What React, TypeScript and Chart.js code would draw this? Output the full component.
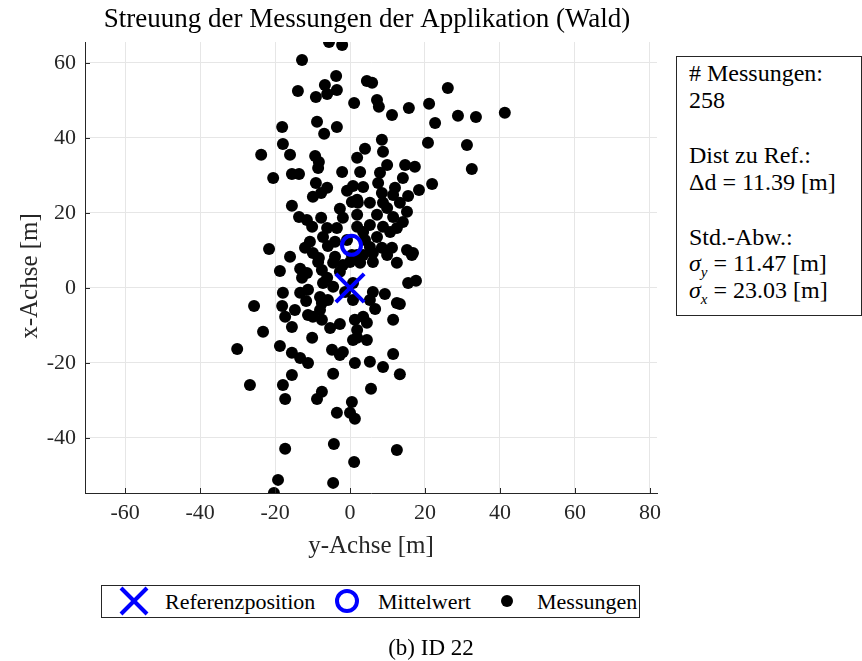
import React, { useEffect, useRef } from 'react';
import { Chart, registerables } from 'chart.js';

Chart.register(...registerables);

const FONT = "'Liberation Serif', 'DejaVu Serif', serif";

const titleText = 'Streuung der Messungen der Applikation (Wald)';
const xAxisLabel = 'y-Achse [m]';
const yAxisLabel = 'x-Achse [m]';
const xTicks = [-60, -40, -20, 0, 20, 40, 60, 80];
const yTicks = [-40, -20, 0, 20, 40, 60];
const xRange = [-70.7, 81.9];
const yRange = [-54.7, 65.6];

const referenzY = [0];
const referenzX = [0];
const mittelY = [0.4];
const mittelX = [11.38];

// horizontal values (y-Achse)
const messY = [
  -5.6, -2.1, -12.8, -3.7, -6.7, -3.5, -13.9, -9.1, -6.1, 1.1,
  -8.8, -3.5, -18.1, -6.9, -17.9, 4.5, 5.9, 7.2, 7.7, 11.2,
  15.7, 21.1, 22.7, 26.1, 28.8, 33.6, 41.3, 8.5, 20.8, 31.2,
  4.0, -23.7, -16.0, -9.3, -8.3, -8.5, -2.1, -20.5, -15.5, -13.6,
  -9.1, -6.1, -7.7, -9.9, -0.8, 0.8, 1.9, -15.5, 0.5, 2.1,
  -13.6, -11.5, -7.7, -10.1, -2.7, -1.9, 1.9, -3.5, -21.6, -10.7,
  -12.0, -7.2, -5.9, -4.0, -16.0, -8.3, -4.0, 0.5, 8.8, 9.9,
  14.7, 17.3, 2.7, 8.0, 14.1, 21.9, 3.5, 7.5, 12.0, 18.4,
  15.5, 8.5, 1.9, 5.3, 9.9, 15.2, 11.5, 7.2, 14.1, 5.3,
  8.8, 10.7, 3.5, 7.2, 5.3, 8.5, 11.2, 15.2, 16.8, 3.5,
  32.5, -18.7, -13.3, -11.5, -12.8, -8.5, -4.5, -1.9, -7.5, -6.1,
  -2.7, -7.2, -4.5, -11.2, -17.9, -25.6, -11.7, -8.0, -5.9, -18.1,
  -14.7, -11.2, -8.0, -17.3, -7.5, -5.3, -2.7, -15.5, -23.2, -10.1,
  -18.7, -30.1, -15.5, -13.3, -11.2, -4.8, -1.9, -2.7, 1.9, 0.8,
  0.0, 1.9, 6.1, 9.9, 12.5, 16.5, 2.7, 6.1, 15.5, 17.6,
  6.1, 9.3, 5.3, 6.7, 12.5, 13.3, 0.8, 11.5, 4.5, 1.9,
  4.5, 11.5, 5.3, 1.3, 8.8, 13.3, -15.5, -17.9, -26.7, -17.3,
  -7.5, -8.8, -4.5, 0.5, -3.5, 0.0, 1.3, -17.3, -4.3, 1.1,
  -19.2, -4.5, -20.3, 5.6, 12.5, 0.8, -1.3, 11.5, 13.3, 12.5,
  8.8, 4.0, 1.9, -9.9, -0.8, -6.1, -13.3, -9.9, -7.5, 3.5,
  1.3,
];

// vertical values (x-Achse)
const messX = [
  65.6, 64.8, 60.8, 56.5, 54.1, 52.8, 52.5, 50.9, 51.7, 49.3,
  44.3, 42.9, 42.9, 41.1, 38.4, 55.2, 54.7, 50.1, 48.3, 46.1,
  48.0, 49.1, 44.0, 53.3, 45.9, 45.6, 46.7, 39.5, 38.7, 38.1,
  37.1, 35.5, 35.5, 35.2, 33.6, 32.0, 30.9, 29.3, 30.4, 30.4,
  28.0, 26.7, 25.3, 24.3, 25.9, 27.2, 34.7, 21.9, 22.9, 22.7,
  18.9, 18.1, 18.7, 16.3, 21.1, 18.7, 19.5, 16.0, 10.4, 12.3,
  10.7, 13.6, 11.2, 12.3, 8.3, 8.0, 8.3, 8.8, 36.3, 32.8,
  32.8, 32.3, 30.9, 30.7, 29.3, 27.7, 26.9, 28.0, 26.7, 26.1,
  24.5, 25.3, 23.5, 22.7, 21.3, 20.3, 18.9, 19.5, 17.6, 16.8,
  16.3, 14.9, 14.9, 13.6, 10.9, 10.7, 10.7, 10.1, 9.3, 8.8,
  31.7, 4.5, 5.1, 4.0, 2.7, 6.9, 6.7, 6.1, 4.8, 2.7,
  4.3, 1.3, 0.3, -0.5, -1.3, -4.8, -3.5, -2.4, -3.2, -4.8,
  -5.9, -7.2, -5.9, -7.7, -8.5, -10.7, -9.6, -10.4, -11.7, -13.3,
  -15.5, -16.3, -17.3, -18.7, -20.0, -16.5, -17.1, -17.9, -11.2, -13.9,
  6.9, 8.8, 9.3, 8.8, 6.7, 8.8, 6.7, 6.9, 1.3, 1.9,
  -1.1, -1.6, -3.2, -5.6, -4.0, -4.3, -3.2, -8.5, -9.3, -13.3,
  -13.9, -17.6, -19.7, -20.0, -21.1, -23.0, -23.2, -25.9, -25.9, -29.6,
  -27.7, -29.6, -22.9, -30.4, -33.3, -33.3, -34.9, -42.9, -41.6, -46.4,
  -51.2, -52.0, -54.7, -26.9, -43.2, 1.3, -1.1, 24.8, 22.7, 16.0,
  22.7, 12.8, 16.3, 9.3, 12.8, 16.0, -1.3, -7.7, -4.0, -7.7,
  -8.5,
];

const legendLabels = ['Referenzposition', 'Mittelwert', 'Messungen'];
const statsCount = '258';
const statsDist = '11.39';
const statsSigY = '11.47';
const statsSigX = '23.03';
const captionText = '(b) ID 22';

const BLUE = '#0000ff';
const AXIS = '#262626';

const decoPlugin = {
  id: 'deco',
  afterDraw(chart: any) {
    const { ctx, chartArea: a, scales } = chart;
    ctx.save();
    ctx.strokeStyle = AXIS;
    ctx.lineWidth = 1;
    xTicks.forEach((v) => {
      const p = Math.round(scales.x.getPixelForValue(v)) + 0.5;
      ctx.beginPath();
      ctx.moveTo(p, a.bottom);
      ctx.lineTo(p, a.bottom - 5);
      ctx.stroke();
    });
    yTicks.forEach((v) => {
      const p = Math.round(scales.y.getPixelForValue(v)) + 0.5;
      ctx.beginPath();
      ctx.moveTo(a.left, p);
      ctx.lineTo(a.left + 5, p);
      ctx.stroke();
    });
    const cx = (a.left + a.right) / 2;
    ctx.fillStyle = '#000';
    ctx.textAlign = 'center';
    ctx.textBaseline = 'middle';
    ctx.font = `27px ${FONT}`;
    ctx.fillText(titleText, cx - 4, 20);
    ctx.fillStyle = AXIS;
    ctx.font = `25px ${FONT}`;
    ctx.fillText(xAxisLabel, cx, 546);
    ctx.translate(30, 276);
    ctx.rotate(-Math.PI / 2);
    ctx.fillText(yAxisLabel, 0, 0);
    ctx.restore();
  },
};

export default function App() {
  const canvasRef = useRef<HTMLCanvasElement | null>(null);

  useEffect(() => {
    const canvas = canvasRef.current;
    if (!canvas) return;
    const points = messY.map((v, i) => ({ x: v, y: messX[i] }));
    const chart = new Chart(canvas, {
      type: 'scatter',
      data: {
        datasets: [
          {
            label: legendLabels[0],
            data: referenzY.map((v, i) => ({ x: v, y: referenzX[i] })),
            pointStyle: 'crossRot',
            pointRadius: 20,
            borderColor: BLUE,
            backgroundColor: BLUE,
            borderWidth: 4,
            order: 0,
          },
          {
            label: legendLabels[1],
            data: mittelY.map((v, i) => ({ x: v, y: mittelX[i] })),
            pointStyle: 'circle',
            pointRadius: 9.5,
            borderColor: BLUE,
            backgroundColor: 'rgba(0,0,0,0)',
            borderWidth: 4,
            order: 1,
          },
          {
            label: legendLabels[2],
            data: points,
            pointStyle: 'circle',
            pointRadius: 6,
            borderWidth: 0,
            backgroundColor: '#000',
            borderColor: '#000',
            order: 2,
          },
        ],
      },
      options: {
        responsive: false,
        animation: false,
        devicePixelRatio: 1,
        events: [],
        layout: { padding: { left: 0, top: 42, right: 205, bottom: 0 } },
        plugins: {
          legend: { display: false },
          title: { display: false },
          tooltip: { enabled: false },
        },
        scales: {
          x: {
            type: 'linear',
            min: xRange[0],
            max: xRange[1],
            afterFit: (s: any) => {
              s.height = 168;
              s.paddingLeft = 0;
              s.paddingRight = 0;
            },
            afterBuildTicks: (s: any) => {
              s.ticks = xTicks.map((v) => ({ value: v }));
            },
            ticks: {
              font: { family: FONT, size: 22 },
              color: AXIS,
              padding: 7,
              maxRotation: 0,
              callback: (v: any) => String(v),
            },
            grid: { color: '#e6e6e6', drawTicks: false, lineWidth: 1 },
            border: { display: true, color: AXIS, width: 1 },
          },
          y: {
            type: 'linear',
            min: yRange[0],
            max: yRange[1],
            afterFit: (s: any) => {
              s.width = 85;
              s.paddingTop = 0;
              s.paddingBottom = 0;
            },
            afterBuildTicks: (s: any) => {
              s.ticks = yTicks.map((v) => ({ value: v }));
            },
            ticks: {
              font: { family: FONT, size: 22 },
              color: AXIS,
              padding: 9,
              callback: (v: any) => String(v),
            },
            grid: { color: '#e6e6e6', drawTicks: false, lineWidth: 1 },
            border: { display: true, color: AXIS, width: 1 },
          },
        },
      },
      plugins: [decoPlugin],
    });
    return () => chart.destroy();
  }, []);

  const textStyle: React.CSSProperties = {
    fontFamily: FONT,
    color: '#000',
    whiteSpace: 'nowrap',
  };

  const statLine = (top: number, content: React.ReactNode) => (
    <div style={{ position: 'absolute', left: 12, top, height: 27, lineHeight: '27px', fontSize: 24 }}>{content}</div>
  );

  return (
    <div style={{ position: 'fixed', left: 0, top: 0, width: 862, height: 661, background: '#fff', overflow: 'hidden' }}>
      <canvas ref={canvasRef} width={862} height={661} style={{ position: 'absolute', left: 0, top: 0, width: 862, height: 661 }} />

      <div
        style={{
          ...textStyle,
          position: 'absolute',
          left: 676,
          top: 56,
          width: 186,
          height: 260,
          boxSizing: 'border-box',
          border: `1px solid ${AXIS}`,
          background: '#fff',
        }}
      >
        {statLine(3, '# Messungen:')}
        {statLine(30, statsCount)}
        {statLine(85, 'Dist zu Ref.:')}
        {statLine(112, <span>Δd = {statsDist} [m]</span>)}
        {statLine(167, 'Std.-Abw.:')}
        {statLine(
          193,
          <span>
            <i>σ</i>
            <sub style={{ fontSize: 15 }}>
              <i>y</i>
            </sub>{' '}
            = {statsSigY} [m]
          </span>
        )}
        {statLine(
          220,
          <span>
            <i>σ</i>
            <sub style={{ fontSize: 15 }}>
              <i>x</i>
            </sub>{' '}
            = {statsSigX} [m]
          </span>
        )}
      </div>

      <div
        style={{
          position: 'absolute',
          left: 101,
          top: 585,
          width: 539,
          height: 33,
          boxSizing: 'border-box',
          border: `1px solid ${AXIS}`,
          background: '#fff',
        }}
      />
      <svg width={32} height={32} style={{ position: 'absolute', left: 118, top: 585 }}>
        <line x1={3} y1={3} x2={29} y2={29} stroke={BLUE} strokeWidth={4} />
        <line x1={29} y1={3} x2={3} y2={29} stroke={BLUE} strokeWidth={4} />
      </svg>
      <svg width={32} height={32} style={{ position: 'absolute', left: 331, top: 585 }}>
        <circle cx={16} cy={16} r={10} stroke={BLUE} strokeWidth={4} fill="none" />
      </svg>
      <svg width={16} height={16} style={{ position: 'absolute', left: 499, top: 593 }}>
        <circle cx={8} cy={8} r={6} fill="#000" />
      </svg>
      {[
        { label: legendLabels[0], left: 165 },
        { label: legendLabels[1], left: 378 },
        { label: legendLabels[2], left: 537 },
      ].map((it) => (
        <div key={it.label} style={{ ...textStyle, position: 'absolute', left: it.left, top: 586, height: 31, lineHeight: '31px', fontSize: 22 }}>
          {it.label}
        </div>
      ))}

      <div style={{ ...textStyle, position: 'absolute', left: 0, width: 862, top: 634, textAlign: 'center', fontSize: 23, lineHeight: '28px' }}>
        {captionText}
      </div>
    </div>
  );
}
